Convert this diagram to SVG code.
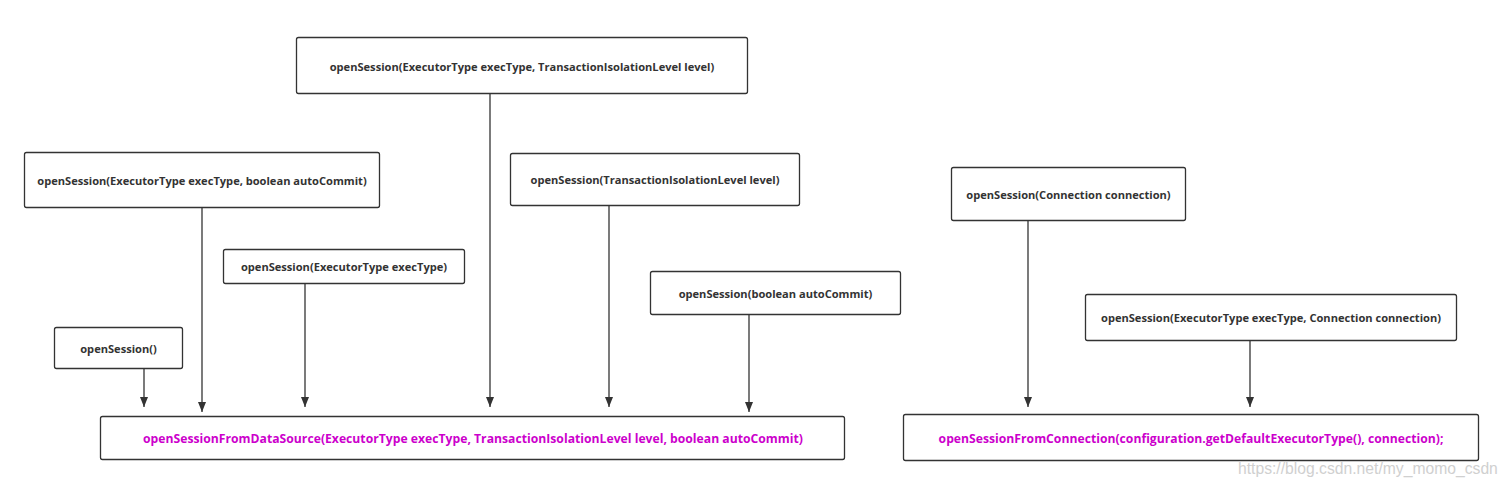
<svg xmlns="http://www.w3.org/2000/svg" width="1507" height="488" viewBox="0 0 1507 488">
<style>
.box{fill:#fff;stroke:#333;stroke-width:1.3}
.t{font-family:"Open Sans","Noto Sans",sans-serif;font-weight:bold;font-size:11.1px;fill:#333;text-anchor:middle;dominant-baseline:central}
.m{font-family:"Open Sans","Noto Sans",sans-serif;font-weight:bold;font-size:12.2px;fill:#cc00cc;text-anchor:middle;dominant-baseline:central}
.c{stroke:#333;stroke-width:1.3;fill:none}
.wm{font-family:"Liberation Sans",Arial,sans-serif;font-size:15.7px;fill:#d0d0d0}
</style>
<defs>
<marker id="ah" markerWidth="10" markerHeight="8" refX="10" refY="4" orient="auto" markerUnits="userSpaceOnUse" viewBox="0 0 10 8">
<path d="M0,0 L10,4 L0,8 Z" fill="#333"/>
</marker>
</defs>
<rect width="1507" height="488" fill="#fff"/>
<g id="connectors">
<line class="c" x1="144" y1="368" x2="144" y2="407" marker-end="url(#ah)"/>
<line class="c" x1="202" y1="207" x2="202" y2="412" marker-end="url(#ah)"/>
<line class="c" x1="305" y1="283" x2="305" y2="407" marker-end="url(#ah)"/>
<line class="c" x1="490" y1="93" x2="490" y2="407" marker-end="url(#ah)"/>
<line class="c" x1="609" y1="205" x2="609" y2="407" marker-end="url(#ah)"/>
<line class="c" x1="749" y1="314" x2="749" y2="412" marker-end="url(#ah)"/>
<line class="c" x1="1028" y1="220" x2="1028" y2="407" marker-end="url(#ah)"/>
<line class="c" x1="1250" y1="340" x2="1250" y2="407" marker-end="url(#ah)"/>
</g>
<g id="nA"><rect class="box" x="296.5" y="37.5" width="451" height="56" rx="2"/><text class="t" x="522" y="66">openSession(ExecutorType execType, TransactionIsolationLevel level)</text></g>
<g id="nB"><rect class="box" x="24.5" y="152.5" width="355" height="55" rx="2"/><text class="t" x="202" y="180">openSession(ExecutorType execType, boolean autoCommit)</text></g>
<g id="nC"><rect class="box" x="223.5" y="249.5" width="241" height="34" rx="2"/><text class="t" x="344" y="266.5">openSession(ExecutorType execType)</text></g>
<g id="nD"><rect class="box" x="54.5" y="327.5" width="128" height="41" rx="2"/><text class="t" x="118.5" y="348">openSession()</text></g>
<g id="nE"><rect class="box" x="510.5" y="153.5" width="289" height="52" rx="2"/><text class="t" x="655" y="179.5">openSession(TransactionIsolationLevel level)</text></g>
<g id="nF"><rect class="box" x="650.5" y="271.5" width="250" height="43" rx="2"/><text class="t" x="775.5" y="293">openSession(boolean autoCommit)</text></g>
<g id="nG"><rect class="box" x="951.5" y="167.5" width="234" height="53" rx="2"/><text class="t" x="1068.5" y="194">openSession(Connection connection)</text></g>
<g id="nH"><rect class="box" x="1085.5" y="294.5" width="371" height="46" rx="2"/><text class="t" x="1271" y="317.5">openSession(ExecutorType execType, Connection connection)</text></g>
<g id="nI"><rect class="box" x="100.5" y="416.5" width="744" height="43" rx="2"/><text class="m" x="473" y="438">openSessionFromDataSource(ExecutorType execType, TransactionIsolationLevel level, boolean autoCommit)</text></g>
<g id="nJ"><rect class="box" x="903.5" y="414.5" width="575" height="46" rx="2"/><text class="m" x="1191" y="438">openSessionFromConnection(configuration.getDefaultExecutorType(), connection);</text></g>
<text class="wm" x="1238" y="474">https://blog.csdn.net/my_momo_csdn</text>
</svg>
